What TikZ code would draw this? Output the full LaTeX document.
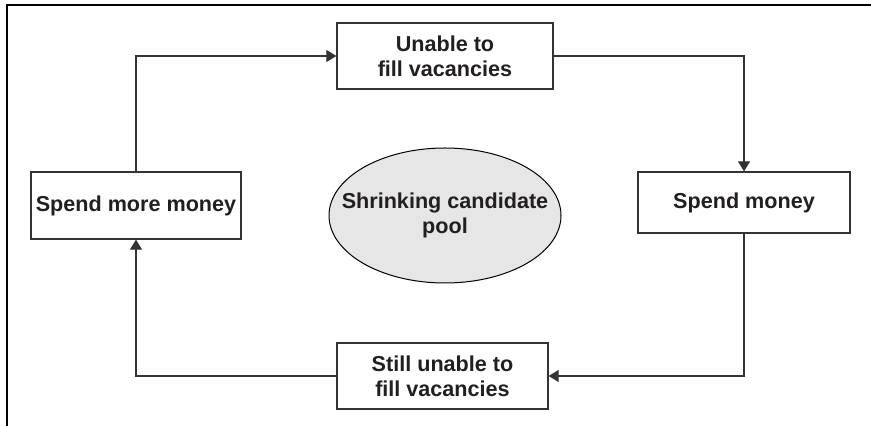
\documentclass[tikz,border=0pt]{standalone}
\usepackage{fontspec}
\setmainfont{Liberation Sans}
\usetikzlibrary{arrows.meta,shapes.geometric}
\definecolor{ink}{HTML}{231F20}
\definecolor{edge}{HTML}{333333}
\definecolor{poolfill}{HTML}{E6E6E6}
\tikzset{
  labelfont/.style={text=ink, font=\bfseries\fontsize{10.8}{12.6}\selectfont},
  stagebox/.style={draw=edge, line width=0.65pt, fill=white, rectangle, inner sep=0pt,
    align=center, labelfont},
  flow/.style={draw=edge, line width=0.55pt,
    -{Triangle[length=5pt,width=6pt]}},
  frameline/.style={draw=black, line width=1.1pt},
}
\begin{document}
\begin{tikzpicture}[x=0.5pt,y=-0.5pt]
\useasboundingbox (0,0) rectangle (871,426);

% open frame: top and left edges only
\coordinate (ftopright) at (875,5);
\coordinate (fcorner) at (7,5);
\coordinate (fbottomleft) at (7,430);
\draw[frameline] (ftopright) -- (fcorner) -- (fbottomleft);

% stages of the cycle
\node[stagebox, minimum width=108pt, minimum height=33pt] (unable) at (445,56) {Unable to\\fill vacancies};
\node[stagebox, minimum width=106pt, minimum height=30.5pt] (spend) at (744,202.5) {Spend money};
\node[stagebox, minimum width=105.5pt, minimum height=33pt] (still) at (442.5,376) {Still unable to\\fill vacancies};
\node[stagebox, minimum width=105pt, minimum height=33.5pt] (more) at (136,205.5) {Spend more money};

% centre of the cycle
\node[ellipse, draw=black, line width=0.5pt, fill=poolfill, minimum width=116pt, minimum height=67.5pt,
  inner sep=0pt] (pool) at (445,215.5) {};
\node[align=center, inner sep=0pt, labelfont] (pooltext) at (pool.center) {Shrinking candidate\\pool};

% connectors around the loop
\draw[flow] (more.north) |- (unable.west);
\draw[flow] (unable.east) -| (spend.north);
\draw[flow] (spend.south) |- (still.east);
\draw[flow] (still.west) -| (more.south);
\end{tikzpicture}
\end{document}
